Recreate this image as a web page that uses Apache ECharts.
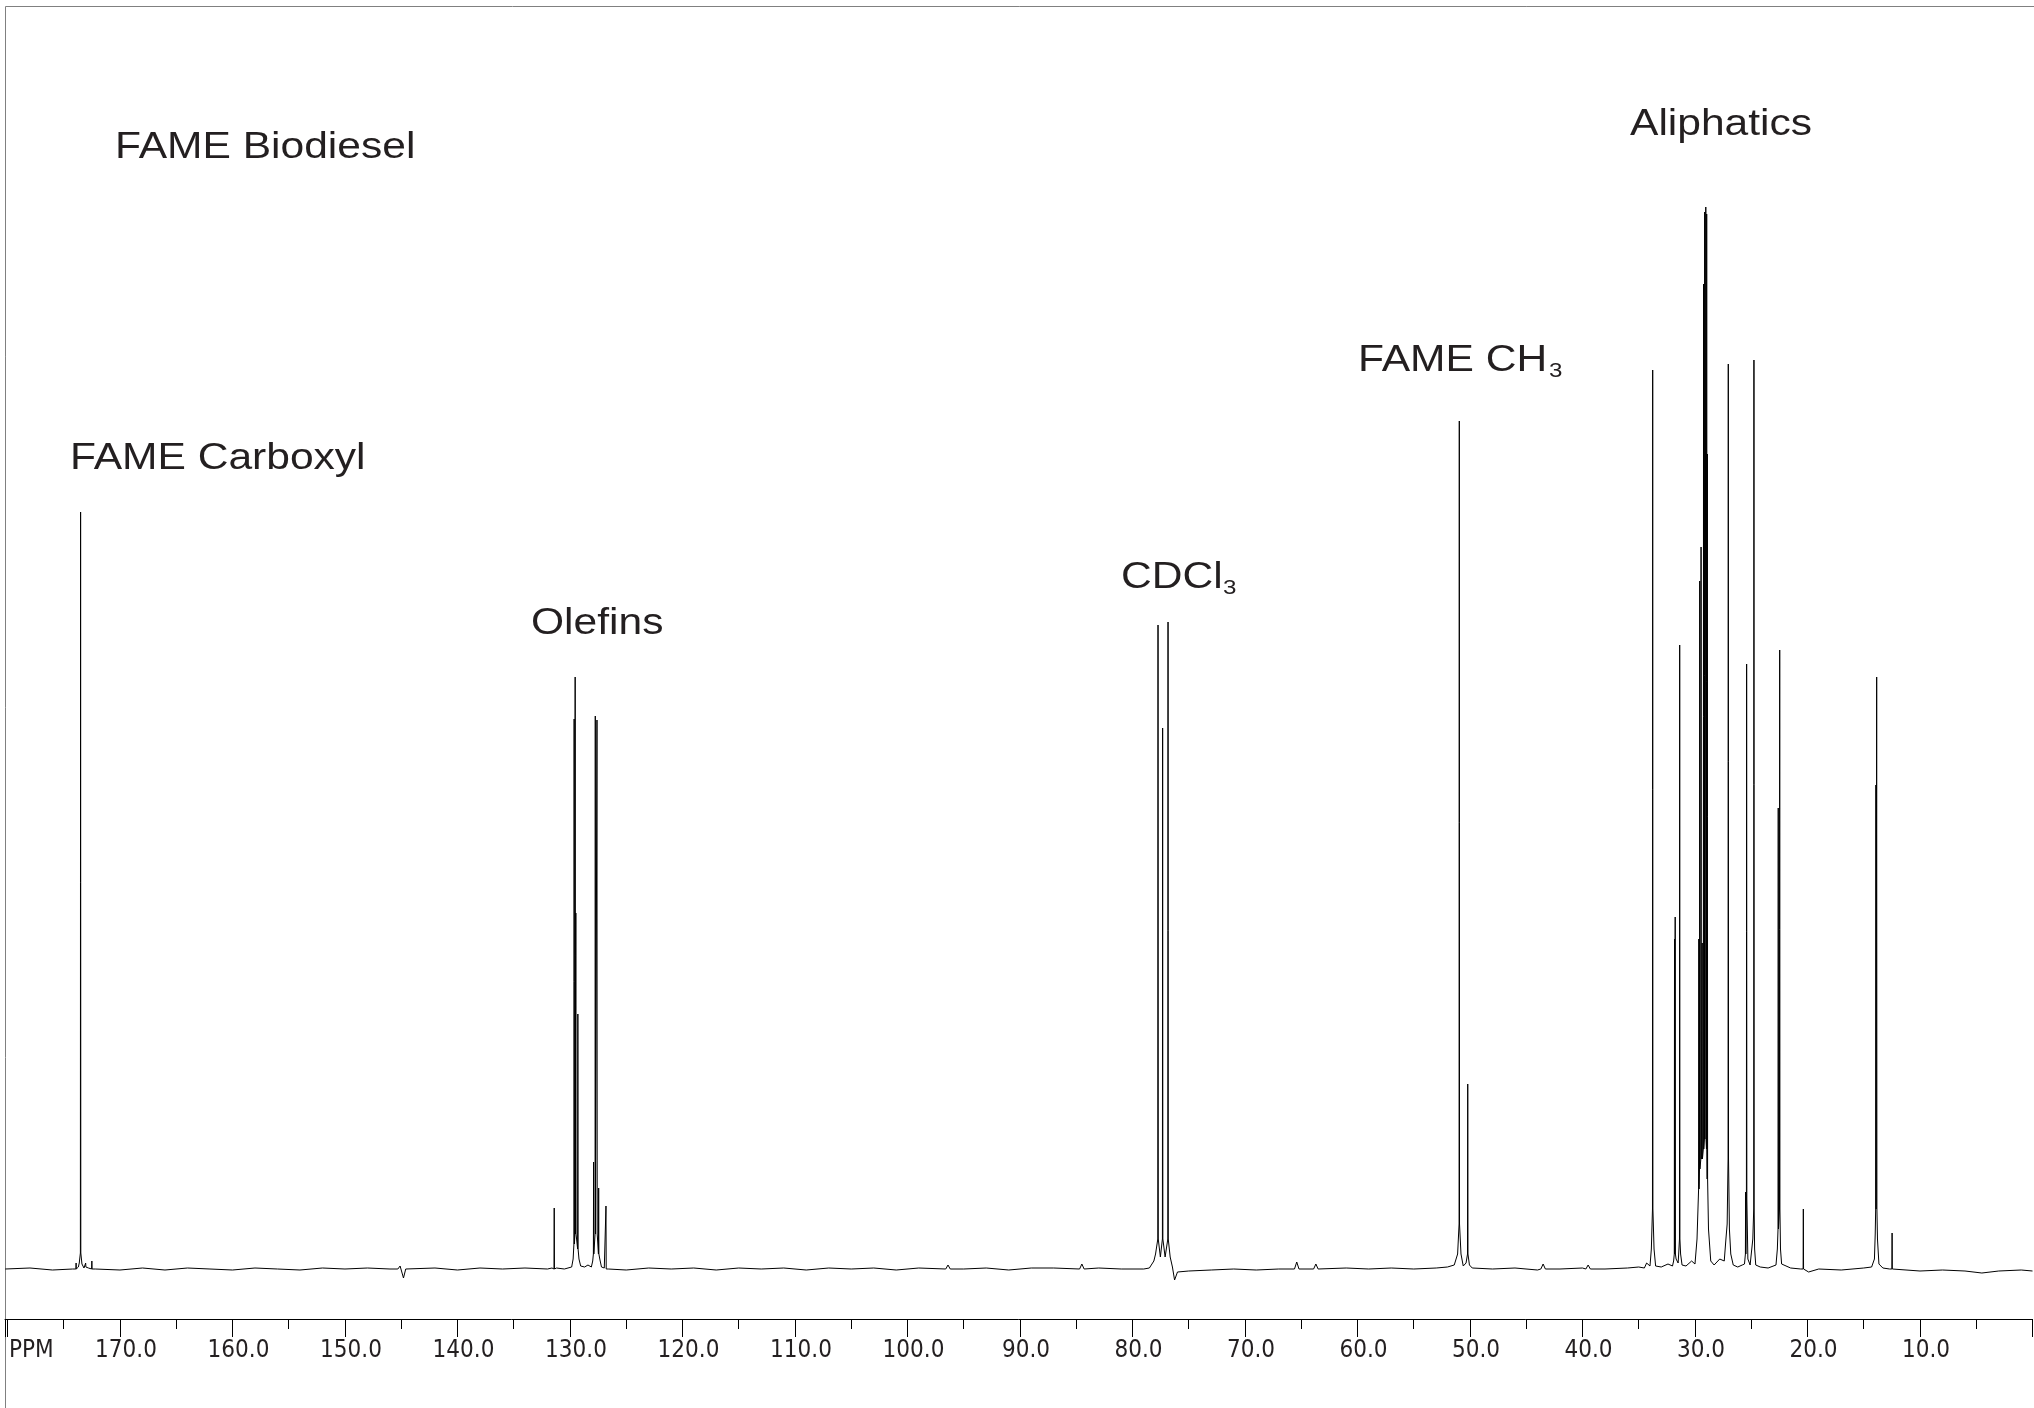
<!DOCTYPE html>
<html>
<head>
<meta charset="utf-8">
<script src="https://cdn.jsdelivr.net/npm/echarts@6/dist/echarts.min.js"></script>
<style>
  html, body { margin: 0; padding: 0; background: #fff; }
  #chart { width: 2034px; height: 1408px; }
</style>
</head>
<body>
<div id="chart"></div>
<script>
// ---- Data ----
// Peak positions (ppm), heights (intensity, arbitrary units) and the level of each peak's foot
const peakPpm = [173.9, 173.5, 173.05, 172.5,
  131.4, 129.63, 129.54, 129.48, 129.3, 127.9, 127.75, 127.6, 127.45, 126.8,
  77.73, 77.32, 76.84,
  50.95, 50.2,
  33.76, 31.82, 31.76, 31.36, 29.66, 29.58, 29.46, 29.36, 29.24, 29.14, 29.04, 28.96, 28.9,
  27.04, 25.5, 25.41, 24.76, 22.6, 22.47, 20.37, 13.92, 13.85, 12.48];
const peakHeight = [6, 757, 6, 8,
  61, 550, 592, 356, 255, 107, 553, 549, 81, 63,
  644, 541, 647,
  848, 185,
  899, 330, 352, 624, 330, 688, 722, 326, 985, 1057, 1062, 1055, 815,
  905, 77, 605, 909, 461, 619, 60, 484, 592, 36];
const peakFoot = [0, 16, 2, 0,
  0, 25, 35, 35, 20, 15, 35, 35, 15, 0,
  30, 30, 30,
  45, 15,
  60, 15, 15, 30, 80, 100, 110, 110, 120, 130, 130, 120, 90,
  110, 15, 70, 60, 40, 60, 0, 60, 60, 0];

// Baseline trace between the peaks (ppm, level)
const basePpm = [180.2, 178, 176, 174.2, 173.7, 173.62, 173.38, 173.2, 172.8, 172.2, 170, 168, 166, 164, 162, 160, 158, 156, 154, 152, 150, 148, 146, 145.3, 145.1, 144.8, 144.6, 142, 140, 138, 136, 134, 132, 131.6, 131.2, 130.5, 129.85, 129.72, 129.2, 129.05, 128.7, 128.4, 128.1, 127.98, 127.35, 127.2, 126.95, 126.6, 125, 123, 121, 119, 117, 115, 113, 111, 109, 107, 105, 103, 101, 99, 96.6, 96.4, 96.2, 95, 93, 91, 89, 87, 84.7, 84.5, 84.3, 83, 81, 79, 78.5, 78.1, 77.95, 77.52, 77.1, 76.65, 76.45, 76.26, 76.0, 75, 73, 71, 69, 67, 65.6, 65.4, 65.2, 63.9, 63.7, 63.5, 61, 59, 57, 55, 53, 52, 51.4, 51.1, 50.8, 50.6, 50.35, 50.05, 49.8, 48, 46, 44, 43.7, 43.5, 43.3, 42, 40, 39.7, 39.5, 39.3, 38, 36, 35, 34.5, 34.3, 34.0, 33.88, 33.64, 33.5, 33, 32.4, 32.0, 31.9, 31.68, 31.5, 31.45, 31.28, 31.15, 30.8, 30.3, 30.0, 29.82, 28.8, 28.6, 28.3, 27.8, 27.4, 27.25, 27.14, 26.94, 26.82, 26.6, 26.2, 25.8, 25.6, 25.56, 25.3, 25.1, 24.95, 24.86, 24.7, 24.6, 24.2, 23.5, 22.8, 22.68, 22.4, 22.3, 21.5, 20.6, 20.2, 19.9, 19, 17, 15, 14.3, 14.05, 13.98, 13.78, 13.65, 13.3, 12.7, 12.3, 10, 8, 6, 4.5, 3, 1, 0];
const baseLevel = [0, 1, -1, 0, 2, 6, 5, 1, 1, 0, -1, 1, -1, 1, 0, -1, 1, 0, -1, 1, 0, 1, 0, 0, 3, -9, 0, 1, -1, 1, 0, 1, 0, 1, 1, 0, 2, 10, 10, 3, 2, 4, 2, 8, 10, 2, 1, 0, -1, 1, 0, 1, -1, 1, 0, 1, -1, 1, 0, 1, -1, 1, 0, 4, 0, 0, 1, -1, 1, 1, 0, 5, 0, 1, 0, 0, 1, 8, 15, 12, 12, 12, 2, -11, -3, -2, -1, 0, -1, 0, 0, 7, 0, 0, 5, 0, 1, 0, 1, 0, 1, 2, 4, 15, 15, 3, 6, 4, 1, 0, 1, -1, 0, 5, 0, 0, 1, 0, 4, 0, 0, 1, 2, 1, 6, 3, 20, 20, 3, 2, 5, 3, 8, 10, 6, 15, 15, 4, 3, 8, 5, 30, 40, 8, 4, 10, 8, 30, 45, 40, 15, 4, 2, 4, 5, 10, 10, 4, 6, 30, 20, 4, 2, 1, 4, 20, 20, 5, 1, 0, -1, -3, 0, -1, 1, 2, 10, 35, 30, 5, 1, 0, -1, -2, -1, -2, -4, -2, -1, -2];

// Axis tick values shown with labels
const tickLabels = [170, 160, 150, 140, 130, 120, 110, 100, 90, 80, 70, 60, 50, 40, 30, 20, 10];

// ---- Build the trace ----
const HALF_WIDTH = 0.02; // ppm, peak line half-width
const pts = [];
for (let i = 0; i < peakPpm.length; i++) {
  pts.push([peakPpm[i] + HALF_WIDTH, peakFoot[i]]);
  pts.push([peakPpm[i], peakHeight[i]]);
  pts.push([peakPpm[i] - HALF_WIDTH, peakFoot[i]]);
}
for (let i = 0; i < basePpm.length; i++) pts.push([basePpm[i], baseLevel[i]]);
pts.sort((a, b) => b[0] - a[0]);

const TXT = '#231f20';
const labelFont = "37px 'Liberation Sans', Arial, sans-serif";
const subFont = "21px 'Liberation Sans', Arial, sans-serif";
function label(text, x, baseline, font, size) {
  return {
    type: 'text', x: x, y: baseline - 0.31 * size, scaleX: 1.15, z: 10,
    style: { text: text, font: font, fill: TXT, textAlign: 'left', textVerticalAlign: 'middle' }
  };
}

const chart = echarts.init(document.getElementById('chart'), null, { renderer: 'canvas' });
chart.setOption({
  animation: false,
  backgroundColor: '#fff',
  grid: { left: 5, right: 1.5, top: 6, bottom: 89, containLabel: false },
  xAxis: {
    type: 'value', inverse: true, min: 0, max: 180.22, interval: 10,
    axisLine: { show: true, onZero: false, lineStyle: { color: '#000', width: 1 } },
    axisTick: { show: true, length: 18, lineStyle: { color: '#000', width: 1 } },
    minorTick: { show: true, splitNumber: 2, length: 10, lineStyle: { color: '#000', width: 1 } },
    splitLine: { show: false },
    axisLabel: {
      margin: 20,
      padding: [0, 0, 0, 12],
      fontFamily: "'Liberation Sans Narrow', 'DejaVu Sans Condensed', sans-serif",
      fontSize: 24, color: TXT,
      showMinLabel: false, showMaxLabel: false,
      formatter: function (v) { return tickLabels.indexOf(v) >= 0 ? v.toFixed(1) : ''; }
    }
  },
  yAxis: {
    type: 'value', min: -50, max: 1263, show: false,
    splitLine: { show: false }
  },
  series: [{
    type: 'line', data: pts, showSymbol: false, symbol: 'none',
    lineStyle: { color: '#000', width: 1 }, clip: true
  }],
  graphic: [
    { type: 'line', shape: { x1: 5.5, y1: 6.5, x2: 2034, y2: 6.5 }, style: { stroke: '#808080', lineWidth: 1 } },
    { type: 'line', shape: { x1: 5.5, y1: 6.5, x2: 5.5, y2: 1408 }, style: { stroke: '#808080', lineWidth: 1 } },
    { type: 'text', x: 9, y: 1351, z: 10,
      style: { text: 'PPM', font: "24px 'Liberation Sans Narrow', 'DejaVu Sans Condensed', sans-serif", fill: TXT, textAlign: 'left', textVerticalAlign: 'middle' } },
    label('FAME Biodiesel', 115, 159, labelFont, 37),
    label('FAME Carboxyl', 70, 470, labelFont, 37),
    label('Olefins', 531, 635, labelFont, 37),
    label('CDCl', 1121, 589, labelFont, 37),
    label('3', 1223, 595, subFont, 21),
    label('FAME CH', 1358, 372, labelFont, 37),
    label('3', 1549, 378, subFont, 21),
    label('Aliphatics', 1630, 136, labelFont, 37)
  ]
});
</script>
</body>
</html>
